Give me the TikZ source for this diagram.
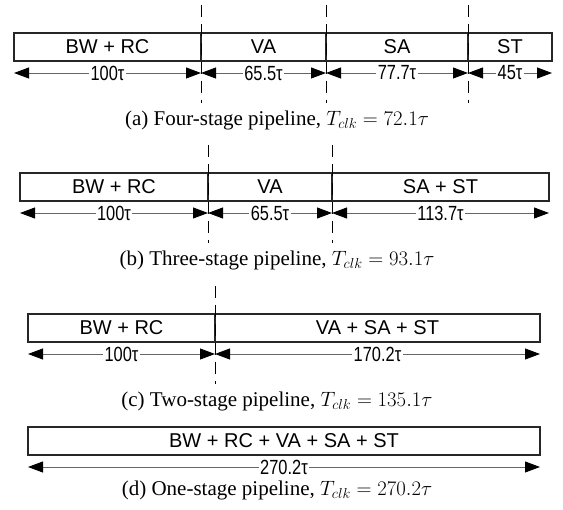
\documentclass[tikz,border=0pt]{standalone}
\usepackage{fontspec}
\setmainfont{Liberation Serif}
\newfontfamily\stagefont{Liberation Sans}
\newfontfamily\dimfont[FakeStretch=0.8]{Liberation Sans}
\usetikzlibrary{arrows.meta,positioning}

\begin{document}
\begin{tikzpicture}[
    x=1pt, y=-1pt,
    stage/.style={
      draw=black!85,
      line width=1.3pt,
      minimum height=28pt,
      inner sep=0pt,
      outer sep=0pt,
      font=\stagefont\fontsize{20}{24}\selectfont
    },
    dim/.style={{Triangle[length=15pt,width=11pt,black]}-{Triangle[length=15pt,width=11pt,black]}, line width=0.9pt, draw=black!60},
    dimlabel/.style={fill=white, inner sep=1.5pt, font=\dimfont\fontsize{20.5}{24}\selectfont},
    cut/.style={dash pattern=on 12pt off 7pt, line width=0.9pt},
    caption/.style={font=\fontsize{21}{25}\selectfont}
  ]
    \useasboundingbox (0,0) rectangle (563,510);

    % (a) four stages
    \node[stage, minimum width=187pt, anchor=north west] (a1) at (14,33) {BW + RC};
    \node[stage, minimum width=125pt, right=0pt of a1] (a2) {VA};
    \node[stage, minimum width=142pt, right=0pt of a2] (a3) {SA};
    \node[stage, minimum width=84pt, right=0pt of a3] (a4) {ST};

    \coordinate (ad0) at ([yshift=-12pt]a1.south west);
    \foreach \n in {1,...,4}
      \coordinate (ad\n) at ([yshift=-12pt]a\n.south east);

    \draw[dim] (ad0) -- node[dimlabel] {100τ} (ad1);
    \draw[dim] (ad1) -- node[dimlabel] {65.5τ} (ad2);
    \draw[dim] (ad2) -- node[dimlabel] {77.7τ} (ad3);
    \draw[dim] (ad3) -- node[dimlabel] {45τ} (ad4);

    \foreach \n in {1,2,3}
      \draw[cut] ([yshift=28pt]a\n.north east) -- ([yshift=-42pt]a\n.south east);

    \node[caption] (capa) at (277,120) {(a) Four-stage pipeline, $T_{clk} = 72.1\tau$};

    % (b) three stages
    \node[stage, minimum width=188pt, anchor=north west] (b1) at (20,173) {BW + RC};
    \node[stage, minimum width=124pt, right=0pt of b1] (b2) {VA};
    \node[stage, minimum width=217pt, right=0pt of b2] (b3) {SA + ST};

    \coordinate (bd0) at ([yshift=-12pt]b1.south west);
    \foreach \n in {1,...,3}
      \coordinate (bd\n) at ([yshift=-12pt]b\n.south east);

    \draw[dim] (bd0) -- node[dimlabel] {100τ} (bd1);
    \draw[dim] (bd1) -- node[dimlabel] {65.5τ} (bd2);
    \draw[dim] (bd2) -- node[dimlabel] {113.7τ} (bd3);

    \foreach \n in {1,2}
      \draw[cut] ([yshift=28pt]b\n.north east) -- ([yshift=-42pt]b\n.south east);

    \node[caption] (capb) at (277,260) {(b) Three-stage pipeline, $T_{clk} = 93.1\tau$};

    % (c) two stages
    \node[stage, minimum width=187pt, anchor=north west] (c1) at (28,314) {BW + RC};
    \node[stage, minimum width=325pt, right=0pt of c1] (c2) {VA + SA + ST};

    \coordinate (cd0) at ([yshift=-12pt]c1.south west);
    \coordinate (cd1) at ([yshift=-12pt]c1.south east);
    \coordinate (cd2) at ([yshift=-12pt]c2.south east);

    \draw[dim] (cd0) -- node[dimlabel] {100τ} (cd1);
    \draw[dim] (cd1) -- node[dimlabel] {170.2τ} (cd2);
    \draw[cut] ([yshift=28pt]c1.north east) -- ([yshift=-42pt]c1.south east);

    \node[caption] (capc) at (277,401) {(c) Two-stage pipeline, $T_{clk} = 135.1\tau$};

    % (d) one stage
    \node[stage, minimum width=512pt, anchor=north west] (d1) at (28,427) {BW + RC + VA + SA + ST};

    \coordinate (dd0) at ([yshift=-12pt]d1.south west);
    \coordinate (dd1) at ([yshift=-12pt]d1.south east);
    \draw[dim] (dd0) -- node[dimlabel] {270.2τ} (dd1);

    \node[caption] (capd) at (277,490) {(d) One-stage pipeline, $T_{clk} = 270.2\tau$};
  \end{tikzpicture}
\end{document}
